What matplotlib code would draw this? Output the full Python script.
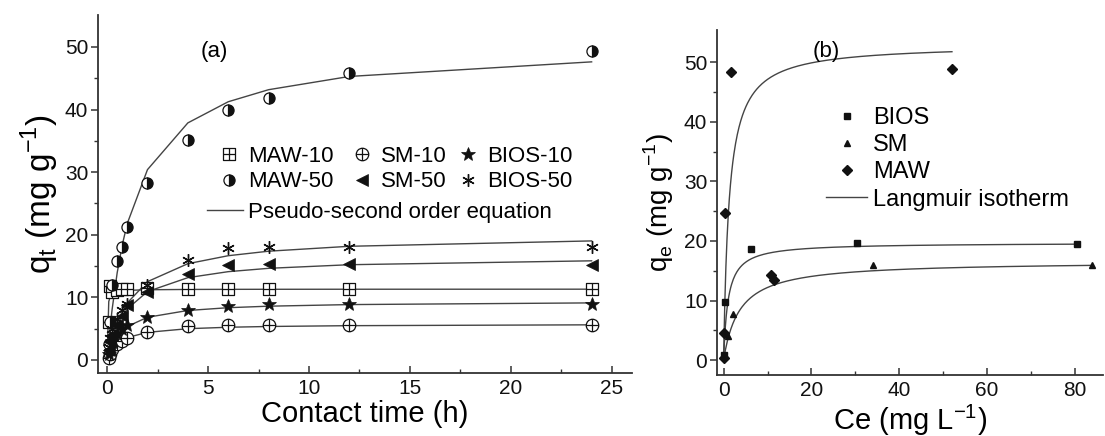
import numpy as np
import matplotlib
matplotlib.use('Agg')
import matplotlib.pyplot as plt
from matplotlib.path import Path
from matplotlib.lines import Line2D

plt.rcParams['font.family'] = ['Liberation Sans', 'DejaVu Sans']
plt.rcParams['mathtext.fontset'] = 'custom'
plt.rcParams['mathtext.rm'] = 'Liberation Sans'

# ---------------- Panel (a): kinetics ----------------
time_h = [0.083, 0.167, 0.25, 0.5, 0.75, 1, 2, 4, 6, 8, 12, 24]
maw10 = [6.0, 11.8, 10.8, 11.2, 11.3, 11.3, 11.5, 11.3, 11.3, 11.3, 11.3, 11.3]
sm10 = [0.3, 1.0, 1.8, 2.5, 3.0, 3.5, 4.4, 5.4, 5.5, 5.5, 5.6, 5.6]
bios10 = [1.0, 2.0, 3.0, 4.2, 5.0, 5.6, 6.9, 7.9, 8.6, 8.9, 8.9, 8.9]
maw50 = [2.5, 6.0, 12.0, 15.8, 18.0, 21.3, 28.2, 35.2, 39.9, 41.8, 45.8, 49.3]
sm50 = [1.5, 2.8, 4.0, 5.5, 7.0, 8.8, 10.8, 13.7, 15.1, 15.3, 15.3, 15.2]
bios50 = [2.0, 3.5, 5.0, 6.5, 8.0, 9.0, 12.0, 16.0, 17.8, 18.1, 18.1, 18.1]

# pseudo-second-order fit parameters (qe, k2)
fit_names = ['MAW-10', 'SM-10', 'BIOS-10', 'MAW-50', 'SM-50', 'BIOS-50']
fit_qe = [11.3, 5.74, 9.39, 50.2, 16.5, 19.95]
fit_k2 = [5.0, 0.285, 0.140, 0.01528, 0.0591, 0.0420]
fit_time = [0] + time_h

# ---------------- Panel (b): isotherms ----------------
bios_ce = [0.1, 0.3, 6.2, 30.3, 80.5]
bios_qe = [0.8, 9.8, 18.6, 19.6, 19.5]
sm_ce = [0.9, 2.1, 34.0, 84.0]
sm_qe = [4.0, 7.8, 16.0, 15.9]
maw_ce = [0.0, 0.2, 0.3, 1.8, 10.8, 11.5, 52.0]
maw_qe = [0.4, 4.6, 24.7, 48.3, 14.2, 13.4, 48.8]

# Langmuir parameters (qm, KL) and Ce range of the fitted curves
lang_qm = [19.7, 16.58, 53.0]
lang_kl = [1.0, 0.2775, 0.8]
lang_cemax = [80.5, 84.0, 52.0]

# ---------------- markers ----------------
sq = Path.unit_rectangle().transformed(matplotlib.transforms.Affine2D().translate(-0.5, -0.5))
cross = Path([(-0.5, 0), (0.5, 0), (0, -0.5), (0, 0.5)],
             [Path.MOVETO, Path.LINETO, Path.MOVETO, Path.LINETO])
sq_plus = Path.make_compound_path(sq, cross)
circ = Path.unit_circle().transformed(matplotlib.transforms.Affine2D().scale(0.5))
circ_plus = Path.make_compound_path(circ, cross)

ink = '#111111'
linec = '#444444'

fig = plt.figure(figsize=(11.05, 4.36), dpi=100)
W, H = 1105, 436
axa = fig.add_axes([98 / W, 1 - 373 / H, (632 - 98) / W, (373 - 15) / H])
axb = fig.add_axes([717 / W, 1 - 375 / H, (1103 - 717) / W, (375 - 30) / H])

# fitted curves (a)
ft = np.array(fit_time)
for qe, k in zip(fit_qe, fit_k2):
    axa.plot(ft, qe * qe * k * ft / (1 + qe * k * ft), color=linec, lw=1.0, zorder=1)

ms = 8
h1, = axa.plot(time_h, maw10, ls='none', marker=sq_plus, ms=ms, mfc='white', mec=ink, mew=0.9, label='MAW-10')
h2, = axa.plot(time_h, sm10, ls='none', marker=circ_plus, ms=ms + 1, mfc='white', mec=ink, mew=0.9, label='SM-10')
h3, = axa.plot(time_h, bios10, ls='none', marker='*', ms=ms + 2, mfc=ink, mec=ink, mew=0.5, label='BIOS-10')
h4, = axa.plot(time_h, maw50, ls='none', marker='o', ms=ms, fillstyle='right', mfc=ink, mfcalt='white', mec=ink, mew=0.9, label='MAW-50')
h5, = axa.plot(time_h, sm50, ls='none', marker='<', ms=ms, mfc=ink, mec=ink, mew=0.5, label='SM-50')
h6, = axa.plot(time_h, bios50, ls='none', marker=(6, 2, 0), ms=ms + 1, mec=ink, mew=1.0, label='BIOS-50')

axa.set_xlim(-0.45, 26.0)
axa.set_ylim(-2.1, 55.1)
axa.set_xticks([0, 5, 10, 15, 20, 25])
axa.set_xticks([2.5, 7.5, 12.5, 17.5, 22.5], minor=True)
axa.set_yticks([0, 10, 20, 30, 40, 50])
axa.set_yticks([5, 15, 25, 35, 45], minor=True)
axa.set_xlabel('Contact time (h)', fontsize=21, labelpad=2)
axa.set_ylabel(r'q$_\mathregular{t}$ (mg g$^\mathregular{-1}$)', fontsize=24, labelpad=3)
axa.text(214 / W, 1 - 52 / H, '(a)', transform=fig.transFigure, ha='center', va='center', fontsize=16)

# legend of panel (a): three marker columns + one line row
lfs = 16
em = lfs * 100 / 72.0
col_handles = [[h1, h4], [h2, h5], [h3, h6]]
col_marker_x = [229, 362, 468]
for hs, mx in zip(col_handles, col_marker_x):
    lg = axa.legend(handles=hs, frameon=False, fontsize=lfs, loc='upper left',
                    bbox_to_anchor=((mx - 0.5 * em) / W, 1 - 146 / H), bbox_transform=fig.transFigure,
                    borderpad=0, handlelength=1.0, handletextpad=0.35, labelspacing=0.2, borderaxespad=0)
    axa.add_artist(lg)
axa.legend(handles=[Line2D([], [], color=linec, lw=1.0)], labels=['Pseudo-second order equation'],
           frameon=False, fontsize=lfs, loc='upper left', bbox_to_anchor=(207 / W, 1 - 202 / H),
           bbox_transform=fig.transFigure, borderpad=0, handlelength=36 / em, handletextpad=5 / em,
           borderaxespad=0)

# (b)
for qm, kl, cmax in zip(lang_qm, lang_kl, lang_cemax):
    ce = np.linspace(0, cmax, 400)
    axb.plot(ce, qm * kl * ce / (1 + kl * ce), color=linec, lw=1.0, zorder=1)
g1, = axb.plot(bios_ce, bios_qe, ls='none', marker='s', ms=5, color=ink, label='BIOS')
g2, = axb.plot(sm_ce, sm_qe, ls='none', marker='^', ms=5, color=ink, label='SM')
g3, = axb.plot(maw_ce, maw_qe, ls='none', marker='D', ms=5, color=ink, label='MAW')
g4 = Line2D([], [], color=linec, lw=1.0)
axb.legend(handles=[g1, g2, g3, g4], labels=['BIOS', 'SM', 'MAW', 'Langmuir isotherm'], frameon=False,
           fontsize=17, loc='upper left', bbox_to_anchor=(826 / W, 1 - 107 / H), bbox_transform=fig.transFigure,
           borderpad=0, handlelength=1.75, handletextpad=0.25, labelspacing=0.22, borderaxespad=0)

axb.set_xlim(-1.5, 86.4)
axb.set_ylim(-2.5, 55.4)
axb.set_xticks([0, 20, 40, 60, 80])
axb.set_xticks([10, 30, 50, 70], minor=True)
axb.set_yticks([0, 10, 20, 30, 40, 50])
axb.set_yticks([5, 15, 25, 35, 45], minor=True)
axb.set_xlabel(r'Ce (mg L$^\mathregular{-1}$)', fontsize=21, labelpad=2)
axb.set_ylabel(r'q$_\mathregular{e}$ (mg g$^\mathregular{-1}$)', fontsize=20, labelpad=6)
axb.text(826 / W, 1 - 52 / H, '(b)', transform=fig.transFigure, ha='center', va='center', fontsize=16)

for ax in (axa, axb):
    for s in ('top', 'right'):
        ax.spines[s].set_visible(False)
    for s in ('left', 'bottom'):
        ax.spines[s].set_linewidth(1.3)
        ax.spines[s].set_color('#333333')
    ax.tick_params(axis='x', which='both', direction='in', colors='#333333', labelcolor='#111111', labelsize=15, pad=4)
    ax.tick_params(axis='y', which='both', direction='out', colors='#333333', labelcolor='#111111', labelsize=15, pad=2)
    ax.tick_params(which='major', length=5, width=1.1)
    ax.tick_params(which='minor', length=3, width=1.0)

fig.savefig('out.png', dpi=100)
